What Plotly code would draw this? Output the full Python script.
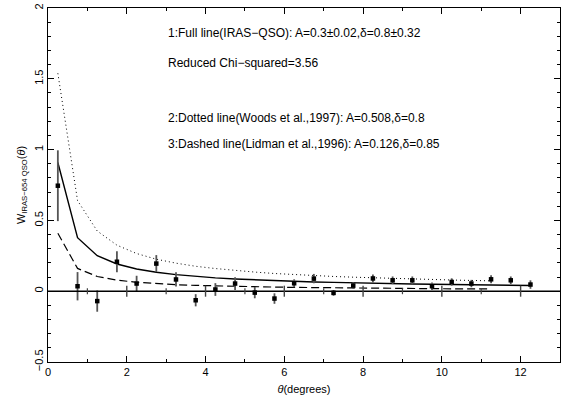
import plotly.graph_objects as go

# ---- data ----
theta = [0.25, 0.75, 1.25, 1.75, 2.25, 2.75, 3.25, 3.75, 4.25, 4.75, 5.25, 5.75,
         6.25, 6.75, 7.25, 7.75, 8.25, 8.75, 9.25, 9.75, 10.25, 10.75, 11.25, 11.75, 12.25]
w_obs = [0.745, 0.035, -0.07, 0.208, 0.054, 0.195, 0.083, -0.064, 0.012, 0.054, -0.01, -0.052,
         0.056, 0.089, -0.012, 0.040, 0.090, 0.077, 0.077, 0.035, 0.065, 0.054, 0.084, 0.077, 0.047]
w_err = [0.25, 0.10, 0.075, 0.075, 0.055, 0.06, 0.05, 0.043, 0.045, 0.045, 0.04, 0.037,
         0.028, 0.033, 0.02, 0.023, 0.028, 0.027, 0.027, 0.026, 0.026, 0.026, 0.028, 0.027, 0.03]

# model curves (values at bin centres)
w_full = [0.909, 0.378, 0.251, 0.192, 0.157, 0.134, 0.117, 0.104, 0.094, 0.086, 0.080, 0.074,
          0.069, 0.065, 0.062, 0.058, 0.055, 0.053, 0.051, 0.049, 0.047, 0.045, 0.043, 0.042, 0.040]
theta_dot = theta[:23]
w_dot = [1.539, 0.640, 0.425, 0.325, 0.266, 0.226, 0.198, 0.176, 0.160, 0.146, 0.135, 0.125,
         0.117, 0.110, 0.104, 0.099, 0.094, 0.090, 0.086, 0.082, 0.079, 0.076, 0.073]
theta_dash = theta[:23]
w_dash = [0.409, 0.161, 0.104, 0.078, 0.063, 0.053, 0.046, 0.041, 0.037, 0.034, 0.031, 0.029,
          0.027, 0.025, 0.023, 0.022, 0.021, 0.020, 0.019, 0.018, 0.017, 0.017, 0.016]

zero_major_ticks = [2, 4, 6, 8, 10, 12]
zero_minor_ticks = [1, 3, 5, 7, 9, 11]

y_tickvals = [-0.5, 0, 0.5, 1, 1.5, 2]
y_ticktext = ["\u22120.5", "0", "0.5", "1", "1.5", "2"]

notes = [
    (3.0, 1.82, "1:Full line(IRAS\u2212QSO): A=0.3\u00b10.02,\u03b4=0.8\u00b10.32"),
    (3.0, 1.61, "Reduced Chi\u2212squared=3.56"),
    (3.0, 1.225, "2:Dotted line(Woods et al.,1997): A=0.508,\u03b4=0.8"),
    (3.0, 1.04, "3:Dashed line(Lidman et al.,1996): A=0.126,\u03b4=0.85"),
]

FONT = "Liberation Sans, Arial, sans-serif"

fig = go.Figure()

fig.add_trace(go.Scatter(x=theta_dot, y=w_dot, mode="lines",
                         line=dict(color="black", width=1, dash="1px,3px")))
fig.add_trace(go.Scatter(x=theta_dash, y=w_dash, mode="lines",
                         line=dict(color="black", width=1.2, dash="8px,4px")))
fig.add_trace(go.Scatter(x=theta, y=w_full, mode="lines",
                         line=dict(color="black", width=1.4)))
fig.add_trace(go.Scatter(x=theta, y=w_obs, mode="markers",
                         marker=dict(symbol="square", size=4.5, color="black"),
                         error_y=dict(type="data", array=w_err, visible=True,
                                      color="#555555", thickness=1.8, width=0)))

shapes = [dict(type="line", xref="x", yref="y", x0=0, x1=13, y0=0, y1=0,
               line=dict(color="black", width=1.4))]
for t in zero_major_ticks:
    shapes.append(dict(type="line", xref="x", yref="y", ysizemode="pixel", yanchor=0,
                       x0=t, x1=t, y0=-5.5, y1=5.5, line=dict(color="#444", width=1.4)))
for t in zero_minor_ticks:
    shapes.append(dict(type="line", xref="x", yref="y", ysizemode="pixel", yanchor=0,
                       x0=t, x1=t, y0=-3, y1=3, line=dict(color="#444", width=1.2)))

annotations = [dict(x=x, y=y, xref="x", yref="y", text=s, showarrow=False,
                    xanchor="left", yanchor="middle",
                    font=dict(family=FONT, size=12, color="black"))
               for x, y, s in notes]

fig.update_layout(
    width=564, height=409,
    margin=dict(l=48, r=3, t=6, b=47),
    paper_bgcolor="white", plot_bgcolor="white",
    showlegend=False,
    font=dict(family=FONT, size=11, color="black"),
    shapes=shapes,
    annotations=annotations,
    xaxis=dict(range=[0, 13], dtick=2, tick0=0, ticks="inside", ticklen=6, tickwidth=1,
               tickcolor="black", showline=True, linecolor="black", linewidth=1.2,
               mirror="ticks", showgrid=False, zeroline=False,
               minor=dict(dtick=1, ticks="inside", ticklen=3, tickcolor="black", showgrid=False),
               title=dict(text="<i>\u03b8</i>(degrees)", standoff=8,
                          font=dict(family=FONT, size=11)),
               tickfont=dict(family=FONT, size=11)),
    yaxis=dict(range=[-0.5, 2], tickvals=y_tickvals, ticktext=y_ticktext, tickangle=-90,
               ticks="inside", ticklen=6, tickwidth=1, tickcolor="black",
               showline=True, linecolor="black", linewidth=1.2, mirror="ticks",
               showgrid=False, zeroline=False,
               minor=dict(dtick=0.1, tick0=0, ticks="inside", ticklen=3, tickcolor="black",
                          showgrid=False),
               title=dict(text="W<sub>IRAS\u2212654 QSO</sub>(<i>\u03b8</i>)", standoff=4,
                          font=dict(family=FONT, size=11)),
               tickfont=dict(family=FONT, size=11)),
)

fig.write_html("out.html")
